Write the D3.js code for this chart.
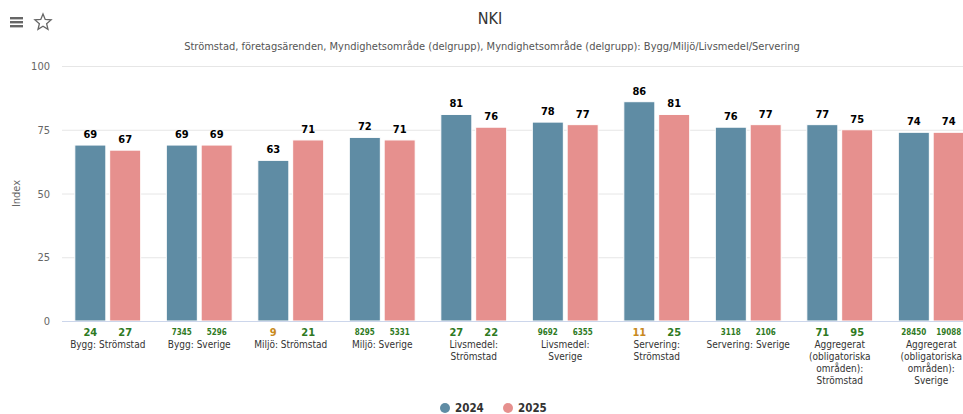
<!DOCTYPE html>
<html>
<head>
<meta charset="utf-8">
<script src="https://cdn.jsdelivr.net/npm/d3@7"></script>
<style>
  body { margin: 0; background: #fff; }
  svg { display: block; font-family: "DejaVu Sans Condensed", "DejaVu Sans", sans-serif; }
</style>
</head>
<body>
<svg id="chart"></svg>
<script>
// data ("\n" = where the label wraps)
const categories = [
  "Bygg: Strömstad", "Bygg: Sverige", "Miljö: Strömstad", "Miljö: Sverige",
  "Livsmedel:\nStrömstad", "Livsmedel:\nSverige", "Servering:\nStrömstad", "Servering: Sverige",
  "Aggregerat\n(obligatoriska\nområden):\nStrömstad", "Aggregerat\n(obligatoriska\nområden):\nSverige"
];
const seriesNames = ["2024", "2025"];
const values2024 = [69, 69, 63, 72, 81, 78, 86, 76, 77, 74];
const values2025 = [67, 69, 71, 71, 76, 77, 81, 77, 75, 74];
const counts2024 = [24, 7345, 9, 8295, 27, 9692, 11, 3118, 71, 28450];
const counts2025 = [27, 5296, 21, 5331, 22, 6355, 25, 2106, 95, 19088];
const yTicks = [0, 25, 50, 75, 100];

const width = 963, height = 414;
const margin = {top: 66, right: -14, bottom: 93, left: 62};
const colors = ["#5f8ca4", "#e6908e"];

const data = categories.map((c, i) => ({
  name: c,
  vals: [values2024[i], values2025[i]],
  counts: [counts2024[i], counts2025[i]]
}));

const svg = d3.select("#chart").attr("width", width).attr("height", height);

/// Scales ///
const x = d3.scaleBand()
  .domain(d3.range(categories.length))
  .range([margin.left, width - margin.right])
  .paddingInner(0.28).paddingOuter(0.14);
const xSub = d3.scaleBand()
  .domain([0, 1])
  .range([0, x.bandwidth()])
  .paddingInner(0.11);
const y = d3.scaleLinear()
  .domain([0, 100])
  .range([height - margin.bottom, margin.top]);

/// Title ///
svg.append("text")
  .attr("x", 490).attr("y", 24)
  .attr("text-anchor", "middle")
  .attr("font-size", 16).attr("fill", "#333")
  .text("NKI");
svg.append("text")
  .attr("x", 492).attr("y", 50)
  .attr("text-anchor", "middle")
  .attr("font-size", 11).attr("fill", "#555")
  .text("Strömstad, företagsärenden, Myndighetsområde (delgrupp), Myndighetsområde (delgrupp): Bygg/Miljö/Livsmedel/Servering");

// menu + star icons
const icons = svg.append("g").attr("fill", "#666");
[0, 4, 8].forEach(dy => icons.append("rect")
  .attr("x", 10).attr("y", 17 + dy).attr("width", 13).attr("height", 2.4));
const star = d3.range(10).map(i => {
  const a = -Math.PI / 2 + i * Math.PI / 5, r = i % 2 ? 3.8 : 8.5;
  return [43 + r * Math.cos(a), 22.5 + r * Math.sin(a)];
});
svg.append("path")
  .attr("d", "M" + star.join("L") + "Z")
  .attr("fill", "none").attr("stroke", "#666").attr("stroke-width", 1.3);

/// Grid + y axis ///
const yAxis = g => g
  .attr("transform", `translate(${margin.left},0)`)
  .call(d3.axisLeft(y).tickValues(yTicks).tickSize(-(width - margin.left - margin.right)).tickPadding(12))
  .call(g => g.select(".domain").remove())
  .call(g => g.selectAll(".tick line").attr("stroke", "#e6e6e6"))
  .call(g => g.selectAll(".tick text").attr("fill", "#666").attr("font-size", 11)
    .attr("font-family", "DejaVu Sans Condensed, sans-serif"));
svg.append("g").call(yAxis);

svg.append("text")
  .attr("transform", `translate(20,${(y(0) + y(100)) / 2}) rotate(-90)`)
  .attr("text-anchor", "middle")
  .attr("font-size", 11).attr("fill", "#666")
  .text("Index");

/// Bars ///
const groups = svg.append("g").selectAll("g")
  .data(data).join("g")
  .attr("transform", (d, i) => `translate(${x(i)},0)`);

groups.selectAll("rect")
  .data(d => d.vals.map((v, s) => ({v, s})))
  .join("rect")
  .attr("x", d => xSub(d.s))
  .attr("y", d => y(d.v))
  .attr("width", xSub.bandwidth())
  .attr("height", d => y(0) - y(d.v))
  .attr("fill", d => colors[d.s])
  .attr("stroke", "#fff").attr("stroke-width", 1);

// value labels
groups.selectAll("text.val")
  .data(d => d.vals.map((v, s) => ({v, s})))
  .join("text")
  .attr("class", "val")
  .attr("x", d => xSub(d.s) + xSub.bandwidth() / 2)
  .attr("y", d => y(d.v) - 7)
  .attr("text-anchor", "middle")
  .attr("font-size", 11).attr("font-weight", "bold").attr("fill", "#000")
  .text(d => d.v);

// counts under the bars
groups.selectAll("text.cnt")
  .data(d => d.counts.map((c, s) => ({c, s})))
  .join("text")
  .attr("class", "cnt")
  .attr("x", d => xSub(d.s) + xSub.bandwidth() / 2)
  .attr("y", d => d.c >= 1000 ? 335 : 336)
  .attr("text-anchor", "middle")
  .attr("font-size", d => d.c >= 1000 ? 8 : 11)
  .attr("font-weight", "bold")
  .attr("fill", d => d.c < 20 ? "#c98a1e" : "#2f7a1f")
  .text(d => d.c);

// baseline
svg.append("line")
  .attr("x1", margin.left).attr("x2", width)
  .attr("y1", y(0) + 0.5).attr("y2", y(0) + 0.5)
  .attr("stroke", "#ccd6eb");

// category labels, one tspan per line
svg.append("g").selectAll("text")
  .data(data).join("text")
  .attr("x", (d, i) => x(i) + x.bandwidth() / 2)
  .attr("y", 348)
  .attr("text-anchor", "middle")
  .attr("font-size", 10).attr("fill", "#333")
  .each(function(d) {
    const t = d3.select(this);
    d.name.split("\n").forEach((line, k) => {
      t.append("tspan").attr("x", t.attr("x")).attr("dy", k ? 12 : 0).text(line);
    });
  });

/// Legend ///
const legend = svg.append("g").selectAll("g")
  .data(seriesNames).join("g")
  .attr("transform", (d, i) => `translate(${445 + i * 63},408)`);
legend.append("circle").attr("r", 5).attr("fill", (d, i) => colors[i]);
legend.append("text")
  .attr("x", 10).attr("y", 4)
  .attr("font-size", 11.5).attr("font-weight", "bold").attr("fill", "#333")
  .text(d => d);
</script>
</body>
</html>
